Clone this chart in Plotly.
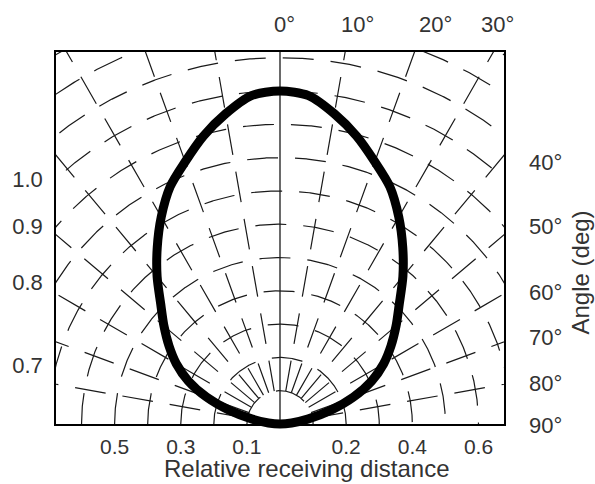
import numpy as np
import plotly.graph_objects as go

# ---------------- data ----------------
# directivity curve: angle (deg, from axis) -> relative receiving distance
angles_deg = [-90, -85, -80, -75, -70, -65, -60, -55, -50, -45, -40, -35, -30, -25, -20, -15, -10, -5,
              0, 5, 10, 15, 20, 25, 30, 35, 40, 45, 50, 55, 60, 65, 70, 75, 80, 85, 90]
rel_distance = [0.0, 0.035, 0.085, 0.158, 0.236, 0.306, 0.362, 0.41, 0.458, 0.51, 0.578, 0.647, 0.718, 0.786, 0.838, 0.895, 0.946, 0.99,
                1.0, 0.99, 0.946, 0.895, 0.838, 0.786, 0.718, 0.647, 0.578, 0.51, 0.458, 0.41, 0.362, 0.306, 0.236, 0.158, 0.085, 0.035, 0.0]

# polar grid
arc_radii = [0.1, 0.2, 0.3, 0.4, 0.5, 0.6, 0.7, 0.8, 0.9, 1.0, 1.1, 1.2, 1.3]
radial_angles = [-80, -70, -60, -50, -40, -30, -20, -10, 10, 20, 30, 40, 50, 60, 70, 80]

# tick labels
bottom_tick_values = [-0.5, -0.3, -0.1, 0.2, 0.4, 0.6]
bottom_tick_labels = ["0.5", "0.3", "0.1", "0.2", "0.4", "0.6"]
left_tick_radii = [1.0, 0.9, 0.8, 0.7]
left_tick_labels = ["1.0", "0.9", "0.8", "0.7"]
top_angle_labels = ["0°", "10°", "20°", "30°"]
right_angle_labels = ["40°", "50°", "60°", "70°", "80°", "90°"]

# ---------------- geometry / styles ----------------
W, H = 595, 484
L_PX, R_PX, T_PX, B_PX = 53, 504, 52, 424
PXU = 333.0  # pixels per unit of relative distance
MARGIN_B = 50
plot_h = H - T_PX - MARGIN_B
XMAX = (R_PX - L_PX) / 2 / PXU
YMAX = (B_PX - T_PX) / PXU
ydom0 = (H - MARGIN_B - B_PX) / plot_h

FONT = "Liberation Sans, Arial, sans-serif"
TXT = "#333333"
GRID = "#1a1a1a"
DASH = "31px,17px"


def px2paper(px, py):
    return (px - L_PX) / (R_PX - L_PX), (H - MARGIN_B - py) / plot_h


fig = go.Figure()

# arcs
for r in arc_radii:
    t = np.radians(np.linspace(-90, 90, 721))
    fig.add_trace(go.Scatter(x=r * np.sin(t), y=r * np.cos(t), mode="lines",
                             line=dict(color=GRID, width=1.2, dash=DASH),
                             hoverinfo="skip", showlegend=False))

# radial lines
for a in radial_angles:
    t = np.radians(a)
    rr = np.array([0.1, 1.6])
    fig.add_trace(go.Scatter(x=rr * np.sin(t), y=rr * np.cos(t), mode="lines",
                             line=dict(color=GRID, width=1.2, dash=DASH),
                             hoverinfo="skip", showlegend=False))
# 0 deg axis (solid)
rr = np.array([0.0, 1.6])
fig.add_trace(go.Scatter(x=rr * 0, y=rr, mode="lines",
                         line=dict(color=GRID, width=1.3),
                         hoverinfo="skip", showlegend=False))

# directivity curve (on a slightly taller overlay so the thick line isn't clipped at the base)
th = np.radians(np.array(angles_deg, dtype=float))
d = np.array(rel_distance)
fig.add_trace(go.Scatter(x=d * np.sin(th), y=d * np.cos(th), mode="lines",
                         line=dict(color="black", width=9, shape="spline", smoothing=0.8),
                         xaxis="x", yaxis="y2", hoverinfo="skip", showlegend=False))

left_tick_vals = [float(np.sqrt(r ** 2 - XMAX ** 2)) for r in left_tick_radii]

fig.update_layout(
    width=W, height=H,
    margin=dict(l=L_PX, r=W - R_PX, t=T_PX, b=MARGIN_B),
    paper_bgcolor="white", plot_bgcolor="rgba(0,0,0,0)",
    font=dict(family=FONT, color=TXT, size=22),
    xaxis=dict(range=[-XMAX, XMAX], domain=[0, 1], anchor="y",
               showgrid=False, zeroline=False,
               showline=True, mirror=True, linecolor="black", linewidth=1.6,
               tickmode="array", tickvals=bottom_tick_values, ticktext=bottom_tick_labels,
               ticks="outside", ticklen=3, tickcolor="rgba(0,0,0,0)",
               tickfont=dict(family=FONT, size=21, color=TXT)),
    yaxis=dict(range=[0, YMAX], domain=[ydom0, 1], anchor="x",
               showgrid=False, zeroline=False,
               showline=True, mirror=True, linecolor="black", linewidth=1.6,
               tickmode="array", tickvals=left_tick_vals, ticktext=left_tick_labels,
               ticks="outside", ticklen=7, tickcolor="rgba(0,0,0,0)",
               tickfont=dict(family=FONT, size=22, color=TXT)),
    yaxis2=dict(range=[-(H - MARGIN_B - B_PX) / PXU, YMAX], domain=[0, 1], anchor="x",
                visible=False, showgrid=False, zeroline=False),
)

# angle labels (top and right)
top_label_px = [(283, 25), (357, 25), (435, 25), (497, 25)]
right_label_px = [(527, 162), (527, 227), (527, 292), (527, 337), (527, 383), (527, 425)]
for txt, (px, py) in zip(top_angle_labels, top_label_px):
    xp, yp = px2paper(px, py)
    fig.add_annotation(x=xp, y=yp, xref="paper", yref="paper", text=txt, showarrow=False,
                       xanchor="center", yanchor="middle", font=dict(family=FONT, size=22, color=TXT))
for txt, (px, py) in zip(right_angle_labels, right_label_px):
    xp, yp = px2paper(px, py)
    fig.add_annotation(x=xp, y=yp, xref="paper", yref="paper", text=txt, showarrow=False,
                       xanchor="left", yanchor="middle", font=dict(family=FONT, size=22, color=TXT))

# axis titles
xp, yp = px2paper(305, 469)
fig.add_annotation(x=xp, y=yp, xref="paper", yref="paper", text="Relative receiving distance",
                   showarrow=False, xanchor="center", yanchor="middle",
                   font=dict(family=FONT, size=24, color=TXT))
xp, yp = px2paper(581, 272)
fig.add_annotation(x=xp, y=yp, xref="paper", yref="paper", text="Angle (deg)", textangle=-90,
                   showarrow=False, xanchor="center", yanchor="middle",
                   font=dict(family=FONT, size=24, color=TXT))

fig.write_html("out.html", config={"displayModeBar": False},
               post_script="document.body.style.margin='0px';")
